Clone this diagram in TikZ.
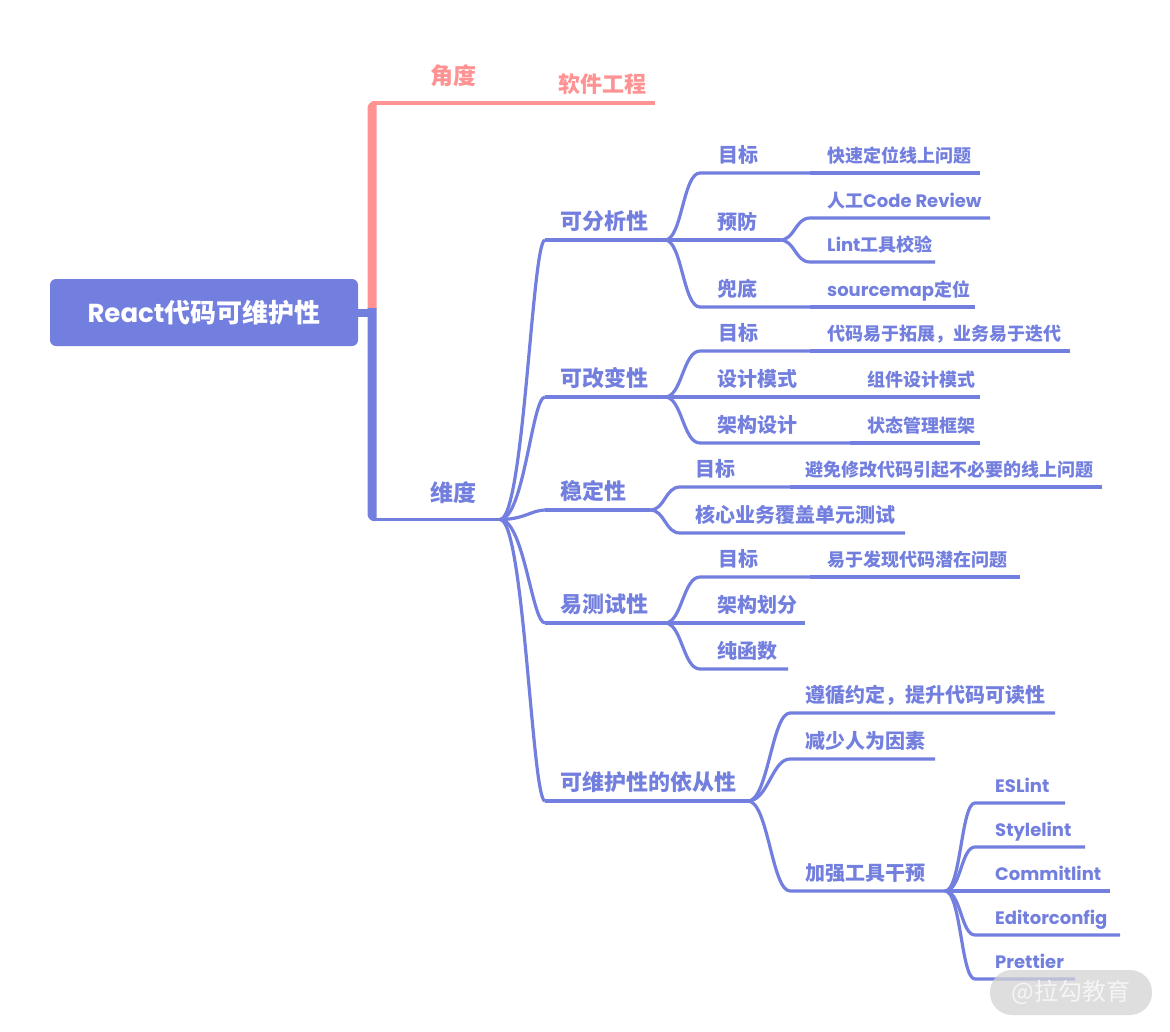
\documentclass[tikz,border=0pt]{standalone}
\usepackage{fontspec}
\setmainfont{Noto Sans CJK SC}
\newfontfamily\latf{Poppins}
\newcommand\lat[1]{{\latf #1}}
\definecolor{mmblue}{HTML}{737FDE}
\definecolor{mmpink}{HTML}{FF9393}
\definecolor{wmgray}{HTML}{D4D4D4}
\tikzset{
  txt/.style={inner sep=0pt, anchor=base west, text=mmblue},
  lone/.style={txt, anchor=base, font=\bfseries\fontsize{23}{26}\selectfont},
  ltwo/.style={txt, font=\bfseries\fontsize{22}{26}\selectfont},
  lthree/.style={txt, font=\bfseries\fontsize{20}{24}\selectfont},
  lfour/.style={txt, font=\bfseries\fontsize{18}{22}\selectfont},
  conn/.style={draw=mmblue, line width=3.2pt},
  pconn/.style={draw=mmpink, line width=3.6pt},
  rootbox/.style={fill=mmblue, rounded corners=6pt, minimum width=308pt, minimum height=67pt,
    inner sep=0pt, text=white, font=\bfseries\fontsize{26}{30}\selectfont},
  wmbox/.style={fill=wmgray, fill opacity=0.75, text opacity=1, rounded corners=22pt,
    minimum width=162pt, minimum height=45pt, inner sep=0pt, text=white!92!gray,
    font=\fontsize{24}{26}\selectfont}
}
\begin{document}
\begin{tikzpicture}[x=1pt,y=-1pt]
\fill[white] (0,0) rectangle (1170,1031);
\useasboundingbox (0,0) rectangle (1170,1031);

% root
\node[rootbox] (root) at (204,312.5) {\lat{React}代码可维护性};
\coordinate (trunk) at (372,312.5);
\draw[mmblue, line width=8pt] (root.east) -- (trunk);

% trunk (thick vertical bars with one rounded outer corner)
\fill[mmpink] (367.5,309) [rounded corners=7pt] -- (367.5,101.2) [sharp corners] -- (376.5,101.2) -- (376.5,309) -- cycle;
\fill[mmblue] (367.5,308) [rounded corners=7pt] -- (367.5,521.1) [sharp corners] -- (376.5,521.1) -- (376.5,308) -- cycle;

% level 1
\coordinate (jd-s) at (372,103); \coordinate (jd-e) at (530,103);
\node[lone, text=mmpink] (jd) at (453,84.5) {角度};
\coordinate (wd-s) at (372,519.5); \coordinate (wd-e) at (500,519.5);
\node[lone] (wd) at (453,501.5) {维度};
\draw[pconn] (jd-s) -- (jd-e);
\draw[conn] (wd-s) -- (wd-e);

% 软件工程
\coordinate (rj-e) at (655,103);
\node[ltwo, text=mmpink] (rj) at (558,92) {软件工程};
\draw[pconn] (jd-e) -- (rj-e);

% level 2
\node[ltwo] (fx) at (560,229) {可分析性};
\node[ltwo] (gb) at (560,386) {可改变性};
\node[ltwo] (wd2) at (560,499) {稳定性};
\node[ltwo] (cs) at (560,612) {易测试性};
\node[ltwo] (yc) at (560,790) {可维护性的依从性};
\coordinate (fx-s) at (545,240); \coordinate (fx-e) at (665,240);
\coordinate (gb-s) at (545,397); \coordinate (gb-e) at (665,397);
\coordinate (wd2-s) at (545,510); \coordinate (wd2-e) at (650,510);
\coordinate (cs-s) at (545,623); \coordinate (cs-e) at (665,623);
\coordinate (yc-s) at (545,801); \coordinate (yc-e) at (748,801);
\foreach \n in {fx,gb,wd2,cs,yc}{
  \draw[conn] (wd-e) .. controls +(24,0) and +(-13,0) .. (\n-s);
  \draw[conn] (\n-s) -- (\n-e);
}

% --- 可分析性
\node[lthree] (fa) at (718,162) {目标};
\node[lthree] (fb) at (717,229) {预防};
\node[lthree] (fc) at (717,296) {兜底};
\coordinate (fa-s) at (700,173); \coordinate (fa-e) at (810,173);
\coordinate (fb-s) at (665,240); \coordinate (fb-e) at (780,240);
\coordinate (fc-s) at (700,307); \coordinate (fc-e) at (810,307);
\draw[conn] (fx-e) .. controls +(17,0) and +(-17,0) .. (fa-s) -- (fa-e);
\draw[conn] (fb-s) -- (fb-e);
\draw[conn] (fx-e) .. controls +(17,0) and +(-17,0) .. (fc-s) -- (fc-e);
\node[lfour] (fa1) at (827,162.5) {快速定位线上问题};
\coordinate (fa1-e) at (980,173);
\draw[conn] (fa-e) -- (fa1-e);
\node[lfour] (fb1) at (827,207.5) {人工\lat{Code Review}};
\node[lfour] (fb2) at (827,251.5) {\lat{Lint}工具校验};
\coordinate (fb1-s) at (810,218); \coordinate (fb1-e) at (990,218);
\coordinate (fb2-s) at (810,262); \coordinate (fb2-e) at (935,262);
\draw[conn] (fb-e) .. controls +(15,0) and +(-15,0) .. (fb1-s) -- (fb1-e);
\draw[conn] (fb-e) .. controls +(15,0) and +(-15,0) .. (fb2-s) -- (fb2-e);
\node[lfour] (fc1) at (827,296.5) {\lat{sourcemap}定位};
\coordinate (fc1-e) at (975,307);
\draw[conn] (fc-e) -- (fc1-e);

% --- 可改变性
\node[lthree] (ga) at (718,340) {目标};
\node[lthree] (gbb) at (717,386) {设计模式};
\node[lthree] (gc) at (717,432) {架构设计};
\coordinate (ga-s) at (700,351); \coordinate (ga-e) at (810,351);
\coordinate (gbb-s) at (665,397); \coordinate (gbb-e) at (850,397);
\coordinate (gc-s) at (700,443); \coordinate (gc-e) at (850,443);
\draw[conn] (gb-e) .. controls +(17,0) and +(-17,0) .. (ga-s) -- (ga-e);
\draw[conn] (gbb-s) -- (gbb-e);
\draw[conn] (gb-e) .. controls +(17,0) and +(-17,0) .. (gc-s) -- (gc-e);
\node[lfour] (ga1) at (827,340.5) {代码易于拓展，业务易于迭代};
\coordinate (ga1-e) at (1070,351);
\draw[conn] (ga-e) -- (ga1-e);
\node[lfour] (gb1) at (867,386.5) {组件设计模式};
\coordinate (gb1-e) at (980,397);
\draw[conn] (gbb-e) -- (gb1-e);
\node[lfour] (gc1) at (867,432.5) {状态管理框架};
\coordinate (gc1-e) at (980,443);
\draw[conn] (gc-e) -- (gc1-e);

% --- 稳定性
\node[lthree] (wa) at (695,476) {目标};
\node[lthree] (wb) at (695,522) {核心业务覆盖单元测试};
\coordinate (wa-s) at (680,487); \coordinate (wa-e) at (790,487);
\coordinate (wb-s) at (680,533); \coordinate (wb-e) at (905,533);
\draw[conn] (wd2-e) .. controls +(15,0) and +(-15,0) .. (wa-s) -- (wa-e);
\draw[conn] (wd2-e) .. controls +(15,0) and +(-15,0) .. (wb-s) -- (wb-e);
\node[lfour] (wa1) at (805,476.5) {避免修改代码引起不必要的线上问题};
\coordinate (wa1-e) at (1102,487);
\draw[conn] (wa-e) -- (wa1-e);

% --- 易测试性
\node[lthree] (ca) at (718,566) {目标};
\node[lthree] (cb) at (717,612) {架构划分};
\node[lthree] (cc) at (717,658) {纯函数};
\coordinate (ca-s) at (700,577); \coordinate (ca-e) at (810,577);
\coordinate (cb-s) at (665,623); \coordinate (cb-e) at (805,623);
\coordinate (cc-s) at (700,669); \coordinate (cc-e) at (788,669);
\draw[conn] (cs-e) .. controls +(17,0) and +(-17,0) .. (ca-s) -- (ca-e);
\draw[conn] (cb-s) -- (cb-e);
\draw[conn] (cs-e) .. controls +(17,0) and +(-17,0) .. (cc-s) -- (cc-e);
\node[lfour] (ca1) at (827,566.5) {易于发现代码潜在问题};
\coordinate (ca1-e) at (1020,577);
\draw[conn] (ca-e) -- (ca1-e);

% --- 可维护性的依从性
\node[lthree] (ya) at (805,702) {遵循约定，提升代码可读性};
\node[lthree] (yb) at (805,748) {减少人为因素};
\node[lthree] (yd) at (805,880) {加强工具干预};
\coordinate (ya-s) at (790,713); \coordinate (ya-e) at (1055,713);
\coordinate (yb-s) at (790,759); \coordinate (yb-e) at (935,759);
\coordinate (yd-s) at (790,891); \coordinate (yd-e) at (945,891);
\foreach \n in {ya,yb,yd}{
  \draw[conn] (yc-e) .. controls +(20,0) and +(-18,0) .. (\n-s) -- (\n-e);
}

% tools
\node[lfour] (t1) at (995,792) {\lat{ESLint}};
\node[lfour] (t2) at (995,836) {\lat{Stylelint}};
\node[lfour] (t3) at (995,880) {\lat{Commitlint}};
\node[lfour] (t4) at (995,924) {\lat{Editorconfig}};
\node[lfour] (t5) at (995,968) {\lat{Prettier}};
\coordinate (t1-s) at (975,803); \coordinate (t1-e) at (1065,803);
\coordinate (t2-s) at (975,847); \coordinate (t2-e) at (1085,847);
\coordinate (t3-s) at (945,891); \coordinate (t3-e) at (1110,891);
\coordinate (t4-s) at (975,935); \coordinate (t4-e) at (1120,935);
\coordinate (t5-s) at (975,979); \coordinate (t5-e) at (1075,979);
\foreach \n in {t1,t2,t4,t5}{
  \draw[conn] (yd-e) .. controls +(16,0) and +(-14,0) .. (\n-s) -- (\n-e);
}
\draw[conn] (t3-s) -- (t3-e);

% watermark
\node[wmbox] (wm) at (1071,992.5) {@拉勾教育};
\end{tikzpicture}
\end{document}
